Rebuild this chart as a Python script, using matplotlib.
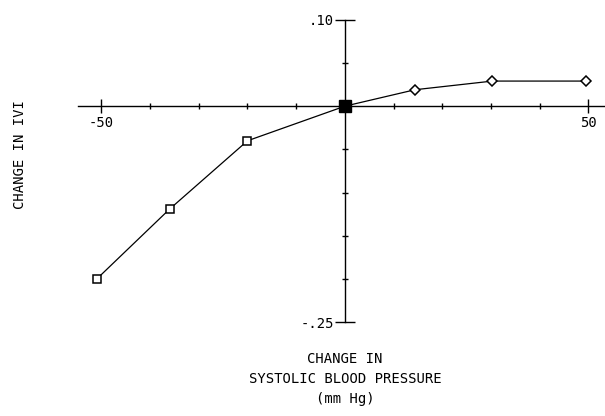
import matplotlib.pyplot as plt

# pressure change (mm Hg) vs change in |V|
neg_x = [-51, -36, -20]
neg_y = [-0.200, -0.119, -0.040]
zero_x = [0]
zero_y = [0.0]
pos_x = [14.4, 30.3, 49.5]
pos_y = [0.019, 0.029, 0.029]

xlabels = ['-50', '50']
ylabels = ['.10', '-.25']

plt.rcParams['font.family'] = ['DejaVu Sans Mono']

fig = plt.figure(figsize=(6.05, 4.16), dpi=100)
ax = fig.add_axes([78 / 605, 0.2248, 526 / 605, 0.728])

all_x = neg_x + zero_x + pos_x
all_y = neg_y + zero_y + pos_y
ax.plot(all_x, all_y, color='black', lw=0.9)
ax.plot(neg_x, neg_y, ls='none', marker='s', ms=5.5, mfc='white', mec='black', mew=1.1)
ax.plot(pos_x, pos_y, ls='none', marker='D', ms=5.5, mfc='white', mec='black', mew=1.1)
ax.plot(zero_x, zero_y, ls='none', marker='s', ms=8, color='black')

ax.set_xlim(-54.8, 53.2)
ax.set_ylim(-0.25, 0.10)

for s in ['top', 'right']:
    ax.spines[s].set_visible(False)
ax.spines['left'].set_position(('data', 0))
ax.spines['bottom'].set_position(('data', 0))
ax.spines['left'].set_linewidth(1.0)
ax.spines['bottom'].set_linewidth(1.0)

ax.set_xticks([-50, 50])
ax.set_xticklabels(xlabels)
ax.set_xticks([-40, -30, -20, -10, 10, 20, 30, 40], minor=True)
ax.set_yticks([0.10, -0.25])
ax.set_yticklabels(ylabels)
ax.set_yticks([0.05, -0.05, -0.10, -0.15, -0.20], minor=True)

ax.tick_params(axis='y', which='major', direction='inout', length=14, width=1.0, labelsize=10, pad=1)
ax.tick_params(axis='x', which='major', direction='inout', length=10, width=1.0, labelsize=10, pad=2)
ax.tick_params(which='minor', direction='inout', length=4, width=1.0)

ax.patch.set_alpha(0)

fig.text(20 / 605, 1 - 155 / 416, 'CHANGE IN IVI', rotation=90, ha='center', va='center', fontsize=10)
fig.text(345 / 605, 1 - 352 / 416, 'CHANGE IN\nSYSTOLIC BLOOD PRESSURE\n(mm Hg)',
         ha='center', va='top', fontsize=10, linespacing=1.55)

fig.savefig('out.png', dpi=100)
